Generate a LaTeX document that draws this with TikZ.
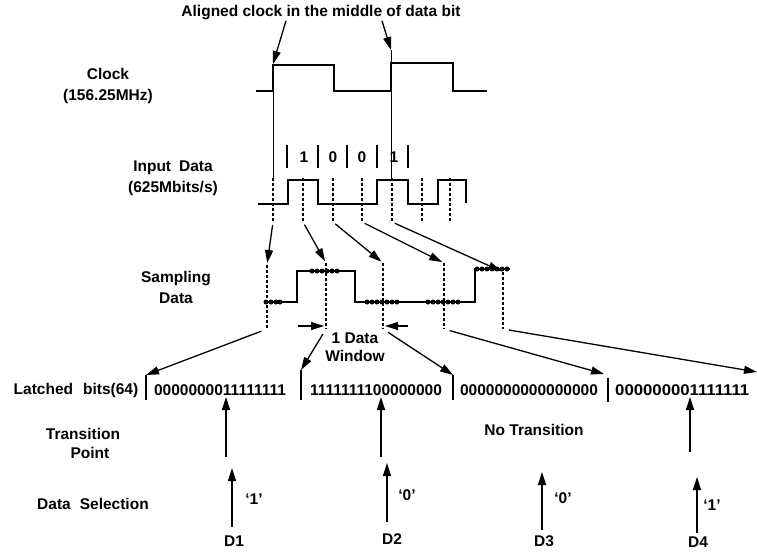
\documentclass[tikz,border=0pt]{standalone}
\usepackage{fontspec}
\setmainfont{Liberation Sans}
\usetikzlibrary{arrows.meta,positioning}

\begin{document}
\begin{tikzpicture}[x=1pt, y=-1pt, font=\fontsize{15.5}{21}\selectfont\bfseries,
  wave/.style={line width=2.4pt},
  dotline/.style={line width=2.6pt, dash pattern=on 2.6pt off 2.4pt},
  guide/.style={line width=1pt},
  bar/.style={line width=1.3pt},
  arr/.style={-{Triangle[length=13pt,width=8pt]}, line width=1.3pt},
  lbl/.style={align=center}]
\useasboundingbox (0,0) rectangle (757,552);

\node[lbl] (title) at (321,13) {Aligned clock in the middle of data bit};
\node[lbl] (clk) at (108,86) {Clock\\(156.25MHz)};
\node[lbl] (din) at (173,178) {Input\hspace{8pt}Data\\(625Mbits/s)};
\node[lbl] (smpl) at (176,287) {Sampling\\Data};
\node[lbl] (latch) at (76,390) {Latched\hspace{10pt}bits(64)};
\node[lbl, font=\fontsize{15.5}{19}\selectfont\bfseries] (trans) at (83,443) {Transition\\\hspace*{14pt}Point};
\node[lbl] (dsel) at (93,504) {Data\hspace{9pt}Selection};

\draw[wave] (256,91) -| (273,65) -| (334,91) -| (391,63) -| (453,91) -- (487,91);
\coordinate (ck1) at (273,64);
\coordinate (ck2) at (391,50);
\draw[arr] ([xshift=-35pt,yshift=3pt]title.south) -- (ck1);
\draw[arr] ([xshift=61pt,yshift=3pt]title.south) -- (ck2);
\draw[guide] (ck1) -- (273,178);
\draw[guide] (ck2) -- (391,180);

\draw[wave] (258,204) -| (288,180) -| (318,204) -| (377,180) -| (408,204) -| (438,180) -| (466,203);
\foreach \x in {287,318,347,377,408}
  \draw[bar] (\x,145) -- (\x,168);
\foreach \x/\b [count=\i] in {304/1,333/0,362/0,394/1}
  \node (bit\i) at (\x,157) {\b};
\foreach \x [count=\i] in {273,303,333,362,392,422,450}{
  \draw[dotline] (\x,178) -- (\x,222);
  \coordinate (in\i) at (\x,222);
}

\foreach \x/\t [count=\i] in {267/265,326/263,383/263,444/263,503/272}{
  \draw[dotline] (\x,\t) -- (\x,329);
  \coordinate (st\i) at (\x,\t);
  \coordinate (sb\i) at (\x,329);
}
\draw[wave] (267,302) -| (297,271) -| (355,302) -| (475,269) -- (510,269);
\foreach \x in {266,271,276,280} \fill (\x,302) circle (2.5pt);
\foreach \x in {312,317,322,327,332,337} \fill (\x,271) circle (2.5pt);
\foreach \x in {367,372,377,382,387,392,397} \fill (\x,302) circle (2.5pt);
\foreach \x in {428,433,438,443,448,453,458} \fill (\x,302) circle (2.5pt);
\foreach \x in {477,482,487,492,497,502,507} \fill (\x,269) circle (2.5pt);
\foreach \i in {1,...,5}
  \draw[arr, shorten <=3pt, shorten >=2pt] (in\i) -- (st\i);

\draw[arr, shorten >=2pt] ([xshift=-28pt,yshift=3pt]sb2) -- ([yshift=3pt]sb2);
\draw[arr, shorten >=2pt] ([xshift=25pt,yshift=3pt]sb3) -- ([yshift=3pt]sb3);
\node[lbl, font=\fontsize{15.5}{18}\selectfont\bfseries] (win) at (355,347) {1 Data\\Window};

\foreach \x/\t/\b [count=\i] in {146/375/400,301/370/400,453/375/400,608/378/402}{
  \draw[bar] (\x,\t) -- (\x,\b);
  \coordinate (bar\i) at (\x,\t);
}
\coordinate (bar5) at (757,372);
\node (w1) at (220,390) {0000000011111111};
\node (w2) at (376,390) {1111111100000000};
\node (w3) at (529,390) {0000000000000000};
\node[anchor=west, inner sep=0pt, xscale=1.08] (w4) at (615,390) {000000001111111};
\draw[arr, shorten <=6pt] (sb1) -- (bar1);
\draw[arr, shorten <=6pt] (sb2) -- (bar2);
\draw[arr, shorten <=6pt] (sb3) -- (bar3);
\draw[arr, shorten <=6pt] (sb4) -- ([xshift=-4pt,yshift=4pt]bar4);
\draw[arr, shorten <=6pt] (sb5) -- (bar5);

\foreach \x/\b [count=\i] in {226/457,381/457,690/452}{
  \coordinate (tb\i) at (\x,\b);
  \coordinate (tt\i) at (\x,397);
  \draw[arr] (tb\i) -- (tt\i);
}
\node (notr) at (534,430) {No Transition};

\foreach \x/\b/\t/\q/\qx/\qy/\dx/\dy [count=\i] in
  {232/527/468/1/254/499/234/541, 387/522/463/0/407/495/392/539,
   542/530/472/0/563/498/544/541, 697/533/477/1/712/505/698/542}{
  \coordinate (sb\i) at (\x,\b);
  \coordinate (sel\i) at (\x,\t);
  \draw[arr] (sb\i) -- (sel\i);
  \node (q\i) at (\qx,\qy) {‘\q’};
  \node (D\i) at (\dx,\dy) {D\i};
}
\end{tikzpicture}
\end{document}
